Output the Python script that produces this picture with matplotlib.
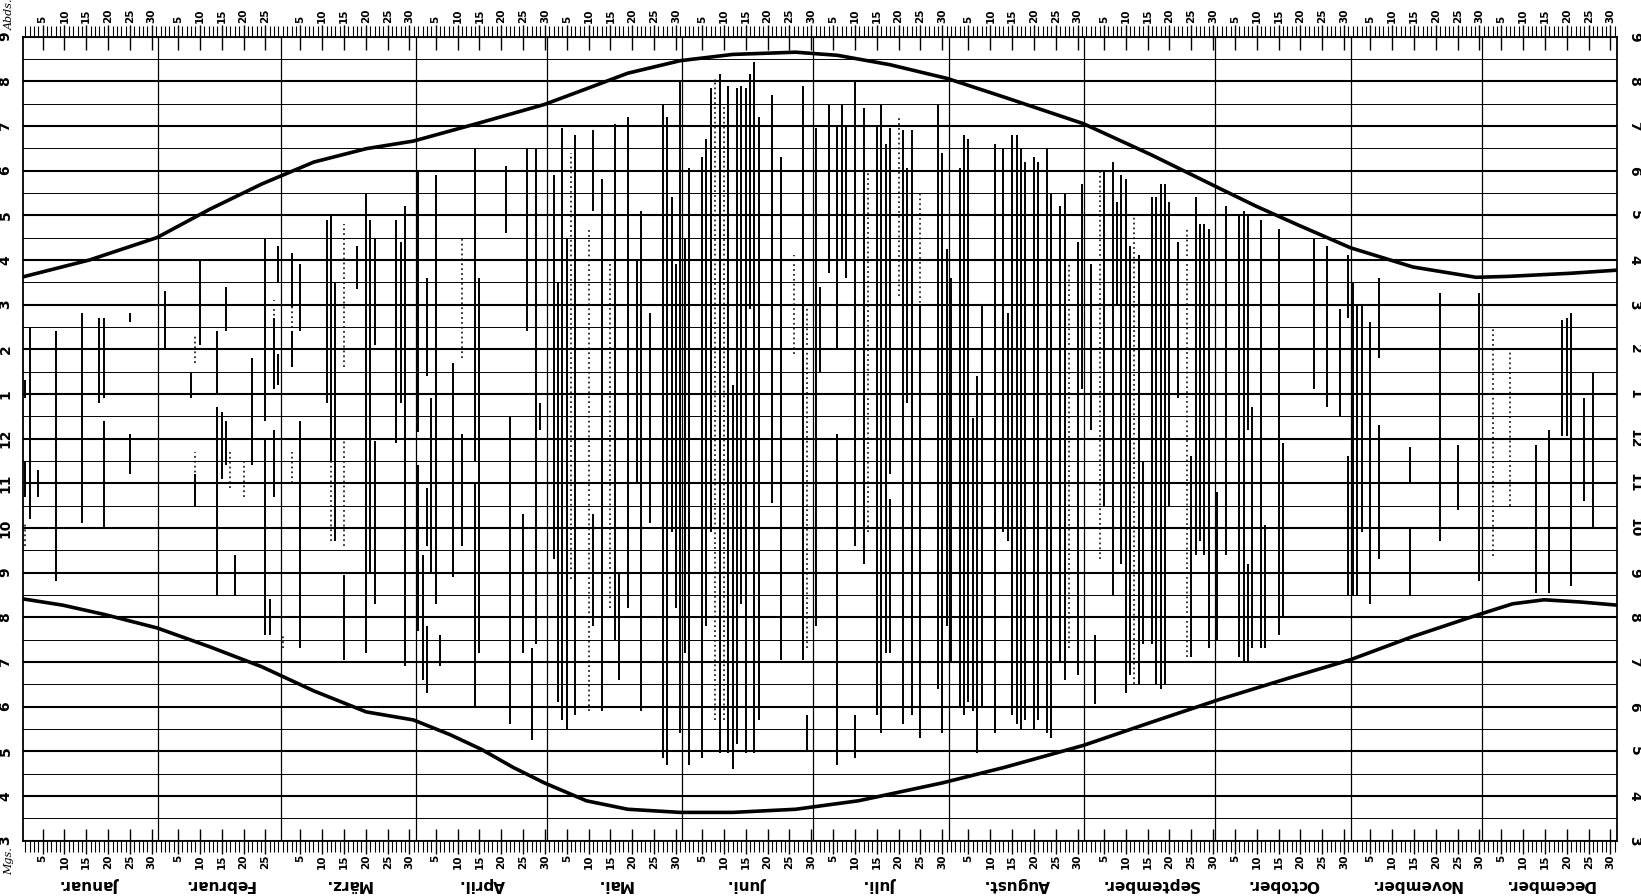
import matplotlib
matplotlib.use("Agg")
import matplotlib.pyplot as plt
from matplotlib.transforms import offset_copy

# Monate und Tage
months = ['Januar.', 'Februar.', 'März.', 'April.', 'Mai.', 'Juni.', 'Juli.',
          'August.', 'September.', 'October.', 'November.', 'December.']
month_days = [31, 28, 31, 30, 31, 30, 31, 31, 30, 31, 30, 31]

# Sonnenuntergang / Sonnenaufgang (Tag im Jahr, Stunde)
sunset_day = [0, 15.3, 30.7, 42.7, 54.7, 66.6, 78.6, 89.4, 105, 119.4, 129, 138.5,
              150.5, 162.5, 176.9, 186.5, 198.5, 211.7, 224.8, 242.8, 258.4, 274,
              282.4, 292, 304, 318.3, 332.7, 339.9, 354.3, 365]
sunset_hour = [15.62, 16.0, 16.5, 17.13, 17.70, 18.19, 18.49, 18.66, 19.08, 19.48, 19.83, 20.18,
               20.46, 20.60, 20.65, 20.58, 20.37, 20.06, 19.64, 19.05, 18.35, 17.60,
               17.20, 16.78, 16.27, 15.84, 15.61, 15.63, 15.70, 15.77]
sunrise_day = [0, 9.1, 18.7, 30.7, 42.7, 54.7, 66.6, 78.6, 89.4, 97.8, 105, 112.2, 119.4,
               129, 138.5, 150.5, 162.5, 176.9, 191.3, 210.5, 224.8, 242.8, 258.4, 274,
               289.6, 304, 318.3, 332.7, 341.1, 348.3, 356.7, 365]
sunrise_hour = [8.41, 8.27, 8.06, 7.76, 7.34, 6.89, 6.35, 5.88, 5.70, 5.37, 5.04, 4.64, 4.29,
                3.89, 3.70, 3.63, 3.63, 3.70, 3.89, 4.29, 4.64, 5.13, 5.65, 6.16,
                6.63, 7.05, 7.57, 8.04, 8.30, 8.39, 8.34, 8.27]

# Sonnenschein-Striche: (Tag im Jahr, von, bis)
jan_segments = [(1, 10.7, 11.5), (1, 12.9, 13.3), (2, 10.2, 14.5), (4, 10.7, 11.3), (8, 8.8, 14.4),
                (14, 10.1, 14.8), (18, 12.8, 14.7), (19, 10.0, 12.4), (19, 12.9, 14.7),
                (25, 11.2, 12.1), (25, 14.6, 14.8)]
feb_segments = [(33, 14.0, 15.3), (39, 12.9, 13.5), (40, 10.5, 11.2), (41, 14.1, 16.0),
                (45, 8.5, 12.7), (45, 13.0, 14.4), (46, 11.1, 12.6), (47, 14.4, 15.4),
                (47, 11.4, 12.4), (49, 8.5, 9.4), (53, 11.4, 13.8), (56, 7.6, 12.0),
                (56, 12.4, 16.5), (57, 7.6, 8.4), (58, 10.7, 12.2), (58, 13.1, 14.7),
                (59, 13.2, 13.9), (59, 15.5, 16.3)]
mar_segments = [(62, 14.95, 16.15), (62, 13.6, 14.4), (64, 14.4, 15.9), (64, 7.3, 12.4),
                (70, 12.8, 16.9), (71, 11.5, 17.0), (72, 9.7, 15.5), (74, 7.05, 8.95),
                (77, 15.35, 16.3), (79, 7.2, 17.5), (80, 9.0, 16.9), (81, 8.3, 11.95),
                (81, 14.1, 16.5), (86, 11.9, 16.9), (87, 12.8, 16.4), (88, 6.9, 17.2)]
apr_segments = [(91, 7.7, 11.4), (91, 12.15, 18.0), (92, 6.6, 9.4), (93, 13.4, 15.6),
                (93, 9.6, 10.9), (93, 6.3, 7.8), (94, 9.0, 12.9), (95, 8.3, 17.9),
                (96, 6.9, 7.6), (99, 8.9, 13.7), (101, 9.6, 12.1), (104, 6.0, 11.0),
                (104, 11.5, 18.5), (105, 7.2, 15.6), (111, 16.6, 18.1), (112, 5.6, 12.5),
                (115, 7.2, 10.3), (116, 14.4, 18.5), (117, 5.26, 7.3), (118, 7.4, 18.5),
                (119, 12.2, 12.8)]
may_segments = [(122, 9.3, 17.9), (123, 6.1, 15.5), (124, 5.7, 18.95), (125, 5.5, 16.5),
                (127, 5.8, 18.8), (131, 7.8, 10.3), (131, 17.1, 18.9), (133, 5.9, 17.8),
                (136, 7.5, 19.05), (137, 6.6, 8.96), (139, 8.2, 19.2), (141, 11.0, 16.0),
                (142, 5.9, 17.1), (144, 10.1, 14.8), (147, 4.85, 19.5),
                (148, 4.7, 19.2), (149, 9.9, 17.4), (150, 8.2, 15.9), (151, 5.4, 20.0)]
jun_segments = [(152, 7.2, 16.5), (153, 7.3, 18.05), (153, 4.7, 12.8), (156, 4.85, 18.3),
                (157, 7.8, 18.7), (158, 9.9, 19.85), (160, 4.95, 20.16), (162, 4.95, 19.9),
                (163, 4.6, 13.2), (164, 5.16, 19.85), (165, 8.3, 19.9), (166, 4.95, 19.85),
                (167, 14.9, 20.16), (168, 4.95, 20.43), (169, 5.7, 19.2), (172, 10.55, 19.7),
                (174, 7.05, 18.3), (179, 7.05, 19.9), (180, 5.0, 5.8), (182, 7.8, 18.95)]
jul_segments = [(183, 13.5, 15.4), (185, 15.7, 19.5), (187, 4.7, 12.1), (187, 14.0, 19.0),
                (188, 16.0, 19.5), (189, 15.6, 19.0), (191, 9.6, 20.0), (191, 4.85, 5.8),
                (193, 9.2, 19.4), (196, 5.8, 19.0), (197, 5.4, 19.5), (198, 7.2, 18.6),
                (199, 11.2, 18.95), (199, 7.2, 10.65), (202, 5.6, 18.9), (203, 12.8, 18.05),
                (204, 5.8, 18.9), (206, 5.3, 15.0), (210, 6.4, 19.5), (211, 5.4, 18.4),
                (212, 7.8, 16.25)]
aug_segments = [(213, 7.0, 15.6), (215, 6.0, 18.05), (216, 5.8, 18.8), (217, 6.1, 18.7),
                (218, 5.9, 12.45), (219, 4.95, 13.4), (220, 6.0, 15.0), (223, 9.6, 18.6),
                (223, 5.4, 10.5), (225, 9.9, 18.5), (226, 9.7, 14.8), (227, 5.8, 18.8),
                (228, 5.6, 18.8), (229, 5.5, 18.5), (230, 5.7, 18.2), (232, 5.5, 18.3),
                (233, 5.7, 18.2), (235, 5.4, 18.5), (236, 5.3, 17.5), (238, 7.0, 17.2),
                (239, 6.6, 17.5), (242, 6.7, 16.4), (243, 13.1, 17.7)]
sep_segments = [(245, 12.2, 15.9), (246, 6.05, 7.6), (248, 10.5, 18.0), (250, 8.5, 18.2),
                (251, 15.0, 17.3), (252, 9.2, 17.9), (253, 6.3, 17.8), (254, 6.7, 16.3),
                (256, 6.5, 16.1), (257, 7.4, 11.5), (259, 7.4, 17.4), (260, 6.5, 17.4),
                (261, 6.4, 17.7), (262, 6.5, 17.7), (263, 10.5, 17.3), (265, 12.9, 16.4),
                (268, 7.1, 11.6), (269, 9.4, 17.4), (270, 9.7, 16.8), (271, 9.4, 16.8),
                (272, 7.3, 16.7)]
oct_segments = [(274, 7.5, 10.8), (276, 9.4, 17.2), (279, 7.1, 17.0), (280, 7.0, 17.1),
                (281, 12.2, 17.0), (281, 7.0, 9.2), (282, 7.3, 12.7), (284, 7.3, 16.9),
                (285, 7.3, 10.06), (288, 7.6, 16.7), (289, 8.0, 11.9), (296, 13.1, 16.5),
                (299, 12.7, 16.3), (302, 12.5, 14.9), (304, 14.7, 16.1), (304, 8.5, 11.6)]
nov_segments = [(305, 8.5, 15.5), (306, 8.5, 15.0), (307, 9.9, 15.0), (309, 8.3, 14.6),
                (311, 13.8, 15.6), (311, 9.3, 12.3), (318, 11.0, 11.8), (318, 8.5, 10.03),
                (325, 9.7, 15.25), (329, 10.4, 11.86), (334, 8.8, 15.25)]
dec_segments = [(347, 8.54, 11.86), (350, 8.54, 12.2), (353, 12.05, 14.65), (354, 12.05, 14.7),
                (355, 8.7, 14.8), (358, 10.6, 12.9), (360, 10.03, 13.46)]

# unterbrochene (punktierte) Spuren
dotted_segments = [(1, 9.6, 10.1), (40, 10.8, 11.7), (40, 13.7, 14.3), (48, 10.9, 11.7),
                   (51, 10.7, 11.5), (58, 13.1, 15.1), (60, 7.3, 7.6), (62, 11.0, 11.7),
                   (62, 13.6, 16.1), (71, 9.7, 11.5), (74, 13.6, 16.8), (74, 9.6, 11.95),
                   (101, 13.8, 16.5), (126, 8.85, 18.4), (130, 5.9, 16.7), (135, 8.2, 16.0),
                   (159, 5.7, 20.06), (161, 5.7, 19.5), (177, 13.9, 16.1), (180, 7.3, 15.0),
                   (194, 9.9, 18.0), (201, 15.2, 19.2), (206, 12.2, 17.5), (240, 7.3, 15.9),
                   (247, 9.3, 18.0), (255, 6.5, 17.0), (267, 7.1, 16.7), (337, 9.36, 14.5),
                   (341, 10.5, 14.0)]

all_segments = (jan_segments + feb_segments + mar_segments + apr_segments + may_segments +
                jun_segments + jul_segments + aug_segments + sep_segments + oct_segments +
                nov_segments + dec_segments)

fig = plt.figure(figsize=(16.41, 8.96), dpi=100)
fig.patch.set_facecolor('white')
ax = fig.add_axes([0.014, 0.0619, 0.9714, 0.8973])
ax.set_xlim(0, 365)
ax.set_ylim(3, 21)

# Gitter: Stunden dick, halbe Stunden duenn
for h in range(3, 22):
    ax.axhline(h, color='k', lw=1.5, zorder=1)
    if h < 21:
        ax.axhline(h + 0.5, color='k', lw=0.7, zorder=1)
month_starts = [0]
for n in month_days:
    month_starts.append(month_starts[-1] + n)
for m in month_starts[1:-1]:
    ax.axvline(m, color='k', lw=0.9, zorder=1)

# Striche
ax.vlines([d - 0.5 for d, a, b in all_segments], [a for d, a, b in all_segments],
          [b for d, a, b in all_segments], colors='k', lw=1.4, zorder=2)
ax.vlines([d - 0.5 for d, a, b in dotted_segments], [a for d, a, b in dotted_segments],
          [b for d, a, b in dotted_segments], colors='k', lw=1.1,
          linestyles=(0, (1.2, 2.0)), zorder=2)

# Kurven
ax.plot(sunset_day, sunset_hour, color='k', lw=2.6, zorder=3)
ax.plot(sunrise_day, sunrise_hour, color='k', lw=2.6, zorder=3)

# x-Achse: Tagesstriche oben und unten
minor_pos = []
major_pos = []
major_lab = []
for start, n in zip(month_starts[:-1], month_days):
    for d in range(1, n + 1):
        if d % 5 == 0:
            major_pos.append(start + d - 0.5)
            major_lab.append(str(d))
        else:
            minor_pos.append(start + d - 0.5)
ax.set_xticks(major_pos)
ax.set_xticklabels(major_lab)
ax.set_xticks(minor_pos, minor=True)
ax.tick_params(axis='x', which='major', top=True, bottom=True, labeltop=True,
               labelbottom=True, direction='inout', length=18, width=1.0, pad=1,
               labelsize=7.5)
ax.tick_params(axis='x', which='minor', top=True, bottom=True, direction='out',
               length=8, width=0.8)
for t in ax.xaxis.get_major_ticks():
    t.label1.set_rotation(90)
    t.label2.set_rotation(90)
    t.label1.set_fontweight('bold')
    t.label2.set_fontweight('bold')

# y-Achse: Stunden links und rechts
hours = list(range(3, 22))
ax.set_yticks(hours)
ax.set_yticklabels([str(h if h <= 12 else h - 12) for h in hours])
ax.tick_params(axis='y', left=False, right=False, labelleft=True, labelright=True,
               pad=4, labelsize=10)
for t in ax.yaxis.get_major_ticks():
    t.label1.set_rotation(90)
    t.label1.set_va('center')
    t.label2.set_rotation(270)
    t.label2.set_va('center')
    t.label1.set_fontweight('bold')
    t.label2.set_fontweight('bold')

for s in ax.spines.values():
    s.set_linewidth(1.3)

# Beschriftungen
top_tr = offset_copy(ax.transAxes, fig=fig, x=0, y=4.5, units='points')
bot_tr = offset_copy(ax.transAxes, fig=fig, x=0, y=-4.5, units='points')
ax.text(-0.0085, 1.0, 'Abds.', transform=top_tr, rotation=90, ha='center',
        va='bottom', fontsize=8, family='DejaVu Serif', style='italic')
ax.text(-0.0085, 0.0, 'Mgs.', transform=bot_tr, rotation=90, ha='center',
        va='top', fontsize=8, family='DejaVu Serif', style='italic')
for name, start, n in zip(months, month_starts[:-1], month_days):
    ax.text(start + n / 2, -0.055, name, transform=ax.get_xaxis_transform(),
            rotation=180, ha='center', va='center', fontsize=11, fontweight='bold')

fig.savefig('out.png', dpi=100, facecolor='white')
